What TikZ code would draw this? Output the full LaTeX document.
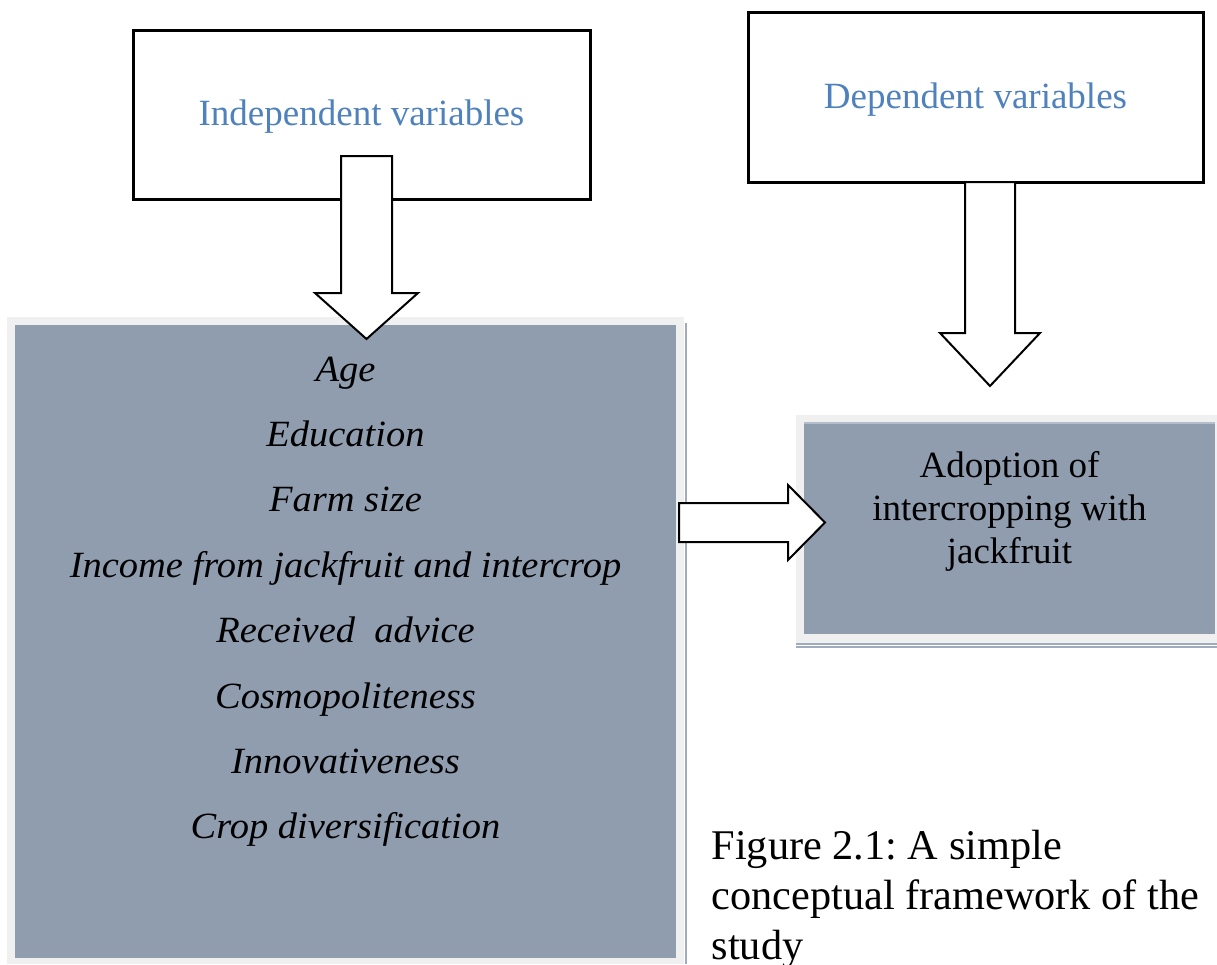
\documentclass[tikz,border=0pt]{standalone}
\usepackage{fontspec}
\setmainfont{Liberation Serif}
\newfontfamily\listfont[FakeStretch=1.04]{Liberation Serif}
\definecolor{panelblue}{RGB}{143,157,175}
\definecolor{framegrey}{RGB}{240,240,240}
\definecolor{edgeblue}{RGB}{160,172,189}
\definecolor{stripe}{RGB}{180,189,202}
\definecolor{headblue}{RGB}{79,129,189}
\tikzset{
  frame/.style={fill=framegrey, draw=none},
  panel/.style={fill=panelblue, draw=none},
  edgeline/.style={draw=edgeblue, line width=2pt},
  topbox/.style={draw=black, line width=3pt, fill=white, inner sep=0pt},
  blockarrow/.style={draw=black, line width=2pt, fill=white, line join=miter},
  heading/.style={font=\fontsize{37}{44}\selectfont, text=headblue},
  item/.style={font=\listfont\itshape\fontsize{37}{44}\selectfont, anchor=base, inner sep=0pt},
  bodytext/.style={font=\fontsize{37}{43}\selectfont, align=center, inner sep=0pt, anchor=north},
  captext/.style={font=\frenchspacing\fontsize{42.3}{50}\selectfont, align=left, inner sep=0pt, anchor=north west}
}
\begin{document}
\begin{tikzpicture}[x=1pt,y=-1pt]
\useasboundingbox (0,0) rectangle (1217,964);
% left panel
\fill[frame] (7,317) rectangle (684,964);
\fill[panel] (15,325) rectangle (676,958);
\draw[edgeline] (685.5,323) -- (685.5,964);
% right panel
\fill[frame] (796,415) rectangle (1217,643);
\fill[panel] (804,422) rectangle (1215,634);
\fill[stripe] (804,422) rectangle (1215,424);
\draw[edgeline, line width=1.6pt] (796,644.2) -- (1217,644.2);
\draw[edgeline, line width=1.6pt] (796,647.2) -- (1217,647.2);
% top boxes
\node[topbox, minimum width=457pt, minimum height=169pt, heading] (indep) at (361.5,114.5) {\raisebox{-11pt}[0pt][0pt]{Independent variables}};
\node[topbox, minimum width=455pt, minimum height=170pt, heading] (dep) at (975.5,97) {\raisebox{-11.5pt}[0pt][0pt]{Dependent variables}};
% list items
\node[item] (age) at (345.5,381) {Age};
\node[item] (edu) at (345.5,446) {Education};
\node[item] (farm) at (345.5,511) {Farm size};
\node[item] (inc) at (345.5,577) {Income from jackfruit and intercrop};
\node[item] (adv) at (345.5,642) {Received\ \ advice};
\node[item] (cosmo) at (345.5,708) {Cosmopoliteness};
\node[item] (innov) at (345.5,773) {Innovativeness};
\node[item] (crop) at (345.5,838) {Crop diversification};
% outcome
\node[bodytext] (adopt) at (1009.5,451) {Adoption of\\intercropping with\\jackfruit};
% caption
\node[captext] (cap) at (711.5,830) {Figure 2.1: A simple\\conceptual framework of the\\study};
% block arrows
\draw[blockarrow] (341,156) -- (392,156) -- (392,293) -- (418,293) -- (366.5,339) -- (315,293) -- (341,293) -- cycle;
\draw[blockarrow] (965,182) -- (1015,182) -- (1015,333) -- (1040,333) -- (990,386) -- (940,333) -- (965,333) -- cycle;
\draw[blockarrow] (679,503) -- (788,503) -- (788,485) -- (825,522.5) -- (788,560) -- (788,542) -- (679,542) -- cycle;
\end{tikzpicture}
\end{document}
